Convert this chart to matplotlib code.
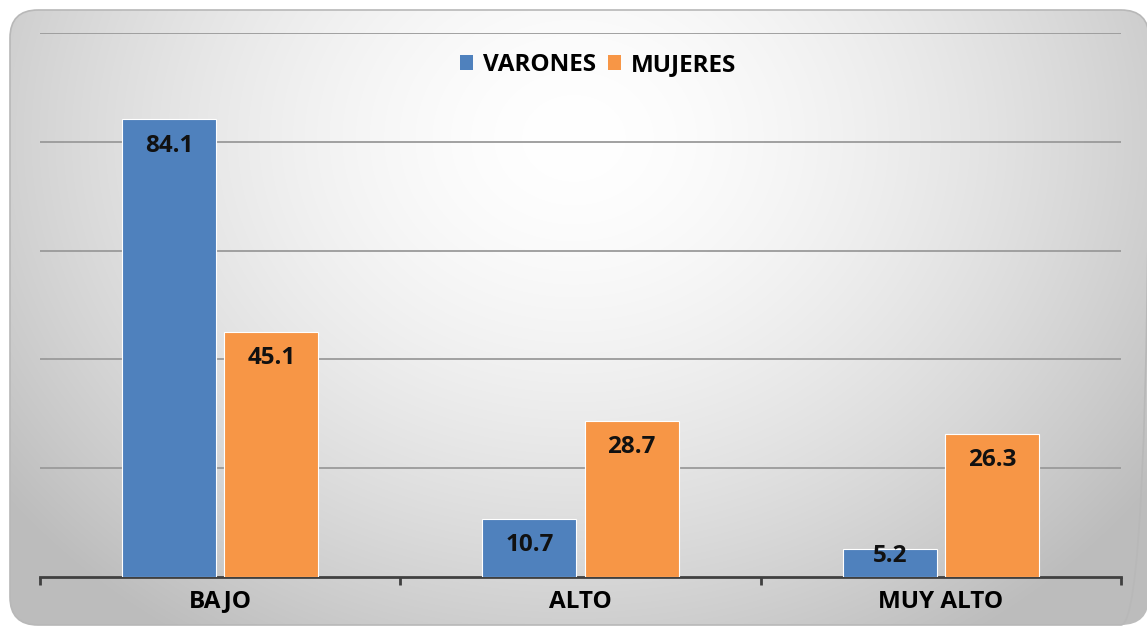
import matplotlib.pyplot as plt
import numpy as np
from matplotlib.patches import FancyBboxPatch, Patch

# datos
categorias = ['BAJO', 'ALTO', 'MUY ALTO']
varones = [84.1, 10.7, 5.2]
mujeres = [45.1, 28.7, 26.3]
series = ['VARONES', 'MUJERES']

c_azul = '#4F81BD'
c_naranja = '#F79646'
fuente = 'Open Sans'
tam = 17.5

W, H = 1147, 627
fig = plt.figure(figsize=(W / 100, H / 100), dpi=100)
fig.patch.set_facecolor('white')

# fondo con degradado dentro de un rectángulo redondeado
bg = fig.add_axes([0, 0, 1, 1], zorder=-5)
bg.set_xlim(0, W)
bg.set_ylim(H, 0)
bg.axis('off')
yy, xx = np.mgrid[0:H, 0:W]
d = np.sqrt(((xx - W * 0.5) / (W * 0.62)) ** 2 + ((yy - H * 0.22) / (H * 0.95)) ** 2)
g = np.clip(1.0 - 0.26 * d ** 1.6, 0.74, 1.0)
img = bg.imshow(np.dstack([g, g, g]), extent=(0, W, H, 0), interpolation='bilinear')
caja = FancyBboxPatch((10, 10), W - 10 + 2, 615, boxstyle='round,pad=0,rounding_size=28',
                      facecolor='none', edgecolor='#b8b8b8', linewidth=1.2)
bg.add_patch(caja)
img.set_clip_path(caja)

# gráfico de barras
ax = fig.add_axes([40 / W, 1 - 577 / H, (1121 - 40) / W, (577 - 33) / H])
ax.patch.set_alpha(0)
x = np.arange(len(categorias))
ancho = 0.26
sep = 0.142
b1 = ax.bar(x - sep, varones, ancho, color=c_azul, edgecolor='white', linewidth=0.8, zorder=3)
b2 = ax.bar(x + sep, mujeres, ancho, color=c_naranja, edgecolor='white', linewidth=0.8, zorder=3)

ax.set_xlim(-0.5, len(categorias) - 0.5)
ax.set_ylim(0, 100)
ax.set_yticks([20, 40, 60, 80, 100])
ax.yaxis.grid(True, color='#9a9a9a', linewidth=1.3, zorder=0)
ax.tick_params(axis='y', length=0, labelleft=False)
for s in ['top', 'right', 'left']:
    ax.spines[s].set_visible(False)
ax.spines['bottom'].set_color('#404040')
ax.spines['bottom'].set_linewidth(2)

# marcas en los límites de categoría y etiquetas centradas
ax.set_xticks(np.arange(len(categorias) + 1) - 0.5)
ax.set_xticklabels([])
ax.tick_params(axis='x', length=6, width=2, color='#404040', direction='out')
ax.set_xticks(x, minor=True)
ax.set_xticklabels(categorias, minor=True, fontsize=tam, fontweight='bold', family=fuente)
ax.tick_params(axis='x', which='minor', length=0, pad=9)

# etiquetas de datos
for barras in (b1, b2):
    for b in barras:
        v = b.get_height()
        yl = v - 4.8 if v > 8 else v - 1.4
        ax.text(b.get_x() + b.get_width() / 2, yl, f'{v:.1f}', ha='center', va='center',
                fontsize=tam, fontweight='bold', family=fuente, color='#111111', zorder=5)

# leyenda
handles = [Patch(facecolor=c_azul, label=series[0]), Patch(facecolor=c_naranja, label=series[1])]
ax.legend(handles=handles, loc='center', bbox_to_anchor=(598 / W, 1 - 65 / H),
          bbox_transform=fig.transFigure, ncol=2, frameon=False,
          prop={'family': fuente, 'weight': 'bold', 'size': tam},
          handlelength=0.55, handleheight=0.55, handletextpad=0.4, columnspacing=0.5)

fig.savefig('out.png', dpi=100)
